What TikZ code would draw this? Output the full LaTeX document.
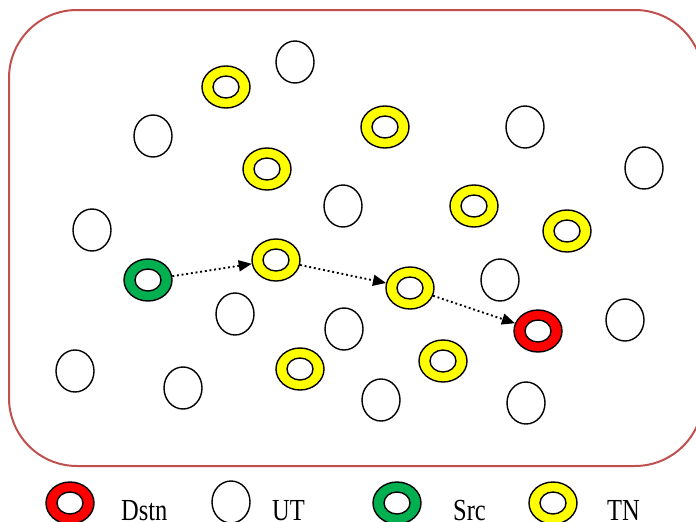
\documentclass[tikz,border=0pt]{standalone}
\usepackage{fontspec}
\setmainfont{Liberation Serif}
\usetikzlibrary{shapes.geometric,arrows.meta}
\definecolor{frame}{HTML}{C0504D}
\definecolor{tnyellow}{HTML}{FFFF00}
\definecolor{srcgreen}{HTML}{00B050}
\definecolor{dstred}{HTML}{FF0000}
\tikzset{
  ut/.style={ellipse,draw=black,line width=1.4pt,fill=white,minimum width=38pt,minimum height=42pt,inner sep=0pt},
  ringouter/.style={ellipse,draw=black,line width=1.4pt,minimum width=48pt,minimum height=42pt,inner sep=0pt},
  ringinner/.style={ellipse,draw=black,line width=1.4pt,fill=white,minimum width=26pt,minimum height=22pt,inner sep=0pt},
  hop/.style={line width=1.9pt,dash pattern=on 1.9pt off 2.8pt,-{Triangle[length=13pt,width=11pt]}},
  legtext/.style={anchor=base west,inner sep=0pt,font=\fontsize{24.5}{26}\selectfont,yscale=1.25}
}
\newcommand{\ringnode}[3]{%
  \node[ringouter,fill=#3] (#1) at (#2) {};
  \node[ringinner] (#1i) at (#1.center) {};
}
\begin{document}
\begin{tikzpicture}[x=1pt,y=-1pt]
\useasboundingbox (0,0) rectangle (696,522);
\clip (0,0) rectangle (696,522);
\node[draw=frame,line width=2pt,rounded corners=68pt,minimum width=694pt,minimum height=456pt,inner sep=0pt] (area) at (356,238) {};
% UT nodes
\node[ut] (u1) at (295,62) {};
\node[ut] (u2) at (153,136) {};
\node[ut] (u3) at (525,127) {};
\node[ut] (u4) at (644,168) {};
\node[ut] (u5) at (92,230) {};
\node[ut] (u6) at (343,206) {};
\node[ut] (u7) at (235,314) {};
\node[ut] (u8) at (344,329) {};
\node[ut] (u9) at (500,280) {};
\node[ut] (u10) at (625,320) {};
\node[ut] (u11) at (75,371) {};
\node[ut] (u12) at (183,388) {};
\node[ut] (u13) at (381,400) {};
\node[ut] (u14) at (526,403) {};
% TN nodes
\ringnode{t1}{226,87}{tnyellow}
\ringnode{t2}{385,127}{tnyellow}
\ringnode{t3}{267,169}{tnyellow}
\ringnode{t4}{474,206}{tnyellow}
\ringnode{t5}{567,231}{tnyellow}
\ringnode{t6}{276,260}{tnyellow}
\ringnode{t7}{410,288}{tnyellow}
\ringnode{t8}{300,369}{tnyellow}
\ringnode{t9}{443,361}{tnyellow}
% source and destination
\ringnode{src}{148,280}{srcgreen}
\ringnode{dst}{538,331}{dstred}
% route
\draw[hop] (src) -- (t6);
\draw[hop] (t6) -- (t7);
\draw[hop] (t7) -- (dst);
% legend
\ringnode{ldst}{70,503}{dstred}
\node[legtext] (lt1) at (121,520) {Dstn};
\node[ut] (lut) at (231,502) {};
\node[legtext] (lt2) at (272,520) {UT};
\ringnode{lsrc}{397,503}{srcgreen}
\node[legtext] (lt3) at (453,520) {Src};
\ringnode{ltn}{553,503}{tnyellow}
\node[legtext] (lt4) at (607,520) {TN};
\end{tikzpicture}
\end{document}
